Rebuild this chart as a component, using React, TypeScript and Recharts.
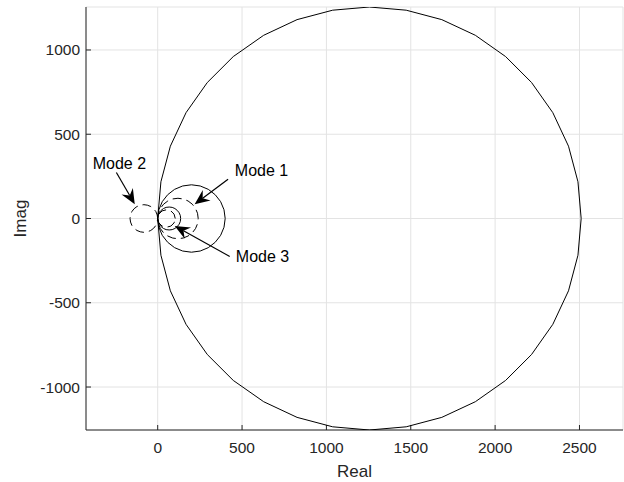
import React from 'react';
import {
  ScatterChart,
  Scatter,
  XAxis,
  YAxis,
  CartesianGrid,
  ReferenceLine,
  ReferenceDot
} from 'recharts';

type Pt = { x: number; y: number };

const xTicks = [0, 500, 1000, 1500, 2000, 2500];
const yTicks = [-1000, -500, 0, 500, 1000];
const xDomain: [number, number] = [-425, 2758];
const yDomain: [number, number] = [-1255, 1255];

const p = (x: number, y: number): Pt => ({ x, y });

// overall response loop
const totalLoop: Pt[] = [
  p(2510, 0), p(2491, 218), p(2435, 429), p(2342, 628), p(2216, 807), p(2062, 961),
  p(1883, 1087), p(1684, 1180), p(1473, 1236), p(1255, 1255), p(1037, 1236), p(826, 1180),
  p(628, 1087), p(448, 961), p(294, 807), p(168, 628), p(75, 429), p(19, 218), p(0, 0),
  p(19, -218), p(75, -429), p(168, -628), p(294, -807), p(448, -961), p(628, -1087),
  p(826, -1180), p(1037, -1236), p(1255, -1255), p(1473, -1236), p(1684, -1180),
  p(1883, -1087), p(2062, -961), p(2216, -807), p(2342, -628), p(2435, -429), p(2491, -218),
  p(2510, 0)
];

// mode 1, solid
const mode1Solid: Pt[] = [
  p(400, 0), p(393, 52), p(373, 100), p(341, 141), p(300, 173), p(252, 193), p(200, 200),
  p(148, 193), p(100, 173), p(59, 141), p(27, 100), p(7, 52), p(0, 0), p(7, -52),
  p(27, -100), p(59, -141), p(100, -173), p(148, -193), p(200, -200), p(252, -193),
  p(300, -173), p(341, -141), p(373, -100), p(393, -52), p(400, 0)
];

// mode 1, dashed
const mode1Dashed: Pt[] = [
  p(240, 0), p(236, 31), p(224, 60), p(205, 85), p(180, 104), p(151, 116), p(120, 120),
  p(89, 116), p(60, 104), p(35, 85), p(16, 60), p(4, 31), p(0, 0), p(4, -31), p(16, -60),
  p(35, -85), p(60, -104), p(89, -116), p(120, -120), p(151, -116), p(180, -104),
  p(205, -85), p(224, -60), p(236, -31), p(240, 0)
];

// mode 2, dashed
const mode2Dashed: Pt[] = [
  p(0, 0), p(-3, 21), p(-11, 41), p(-24, 58), p(-41, 71), p(-61, 79), p(-82, 82),
  p(-103, 79), p(-123, 71), p(-140, 58), p(-153, 41), p(-161, 21), p(-164, 0),
  p(-161, -21), p(-153, -41), p(-140, -58), p(-123, -71), p(-103, -79), p(-82, -82),
  p(-61, -79), p(-41, -71), p(-24, -58), p(-11, -41), p(-3, -21), p(0, 0)
];

// mode 3, solid
const mode3Solid: Pt[] = [
  p(136, 0), p(134, 18), p(127, 34), p(116, 48), p(102, 59), p(86, 66), p(68, 68),
  p(50, 66), p(34, 59), p(20, 48), p(9, 34), p(2, 18), p(0, 0), p(2, -18), p(9, -34),
  p(20, -48), p(34, -59), p(50, -66), p(68, -68), p(86, -66), p(102, -59), p(116, -48),
  p(127, -34), p(134, -18), p(136, 0)
];

// mode 3, dashed
const mode3Dashed: Pt[] = [
  p(104, 0), p(97, 26), p(78, 45), p(52, 52), p(26, 45), p(7, 26), p(0, 0),
  p(7, -26), p(26, -45), p(52, -52), p(78, -45), p(97, -26), p(104, 0)
];

const modeLabels = ['Mode 1', 'Mode 2', 'Mode 3'];
const labelPos: Pt[] = [p(457, 286), p(-227, 328), p(463, -225)];
const labelAnchor = ['start', 'middle', 'start'];
const arrowTail: Pt[] = [p(417, 233), p(-245, 273), p(427, -225)];
const arrowHead: Pt[] = [p(219, 85), p(-136, 85), p(101, -44)];

const axisColor = '#262626';
const font = '"Liberation Sans", Arial, sans-serif';
const dash = '9 5';

const ArrowShape = (props: any) => {
  const { x1, y1, x2, y2 } = props;
  const dx = x2 - x1;
  const dy = y2 - y1;
  const len = Math.hypot(dx, dy) || 1;
  const ux = dx / len;
  const uy = dy / len;
  const nx = -uy;
  const ny = ux;
  const hl = 15;
  const hw = 6.5;
  const notch = 10;
  const bx = x2 - ux * hl;
  const by = y2 - uy * hl;
  const mx = x2 - ux * notch;
  const my = y2 - uy * notch;
  return (
    <g>
      <line x1={x1} y1={y1} x2={mx} y2={my} stroke="#000" strokeWidth={1.2} />
      <polygon
        points={`${x2},${y2} ${bx + nx * hw},${by + ny * hw} ${mx},${my} ${bx - nx * hw},${by - ny * hw}`}
        fill="#000"
      />
    </g>
  );
};

const App: React.FC = () => {
  const series = [
    { data: totalLoop, dashed: false },
    { data: mode1Solid, dashed: false },
    { data: mode1Dashed, dashed: true },
    { data: mode2Dashed, dashed: true },
    { data: mode3Solid, dashed: false },
    { data: mode3Dashed, dashed: true }
  ];

  return (
    <div style={{ position: 'absolute', left: 0, top: 0, width: 624, height: 482, background: '#fff' }}>
      <ScatterChart width={624} height={482} margin={{ top: 7, right: 1, left: 0, bottom: 0 }}>
        <CartesianGrid stroke="#e3e3e3" />
        <XAxis
          type="number"
          dataKey="x"
          domain={xDomain}
          ticks={xTicks}
          allowDataOverflow
          height={52}
          stroke={axisColor}
          tickSize={-5}
          tickMargin={17}
          tick={{ fill: axisColor, fontSize: 15.5, fontFamily: font }}
          label={{
            content: (lp: any) => {
              const vb = lp.viewBox;
              return (
                <text x={vb.x + vb.width / 2} y={477} textAnchor="middle" fill={axisColor} fontSize={17} fontFamily={font}>
                  Real
                </text>
              );
            }
          }}
        />
        <XAxis
          xAxisId="top"
          orientation="top"
          type="number"
          domain={xDomain}
          ticks={xTicks}
          allowDataOverflow
          height={0}
          stroke={axisColor}
          tickSize={-5}
          tick={false}
        />
        <YAxis
          type="number"
          dataKey="y"
          domain={yDomain}
          ticks={yTicks}
          allowDataOverflow
          width={86}
          stroke={axisColor}
          tickSize={-5}
          tickMargin={11}
          tick={{ fill: axisColor, fontSize: 15.5, fontFamily: font }}
          label={{
            content: (lp: any) => {
              const vb = lp.viewBox;
              const cx = 26;
              const cy = vb.y + vb.height / 2;
              return (
                <text x={cx} y={cy} transform={`rotate(-90 ${cx} ${cy})`} textAnchor="middle" fill={axisColor} fontSize={17} fontFamily={font}>
                  Imag
                </text>
              );
            }
          }}
        />
        <YAxis
          yAxisId="right"
          orientation="right"
          type="number"
          domain={yDomain}
          ticks={yTicks}
          allowDataOverflow
          width={0}
          stroke={axisColor}
          tickSize={-5}
          tick={false}
        />
        {series.map((s, i) => (
          <Scatter
            key={i}
            data={s.data}
            fill="#000"
            line={{ stroke: '#000', strokeWidth: 1, strokeDasharray: s.dashed ? dash : undefined }}
            lineType="joint"
            shape={() => <g />}
            isAnimationActive={false}
          />
        ))}
        {modeLabels.map((m, i) => (
          <ReferenceLine
            key={'a' + i}
            segment={[arrowTail[i], arrowHead[i]]}
            stroke="#000"
            shape={ArrowShape}
          />
        ))}
        {modeLabels.map((m, i) => (
          <ReferenceDot
            key={'t' + i}
            x={labelPos[i].x}
            y={labelPos[i].y}
            r={0}
            shape={(dp: any) => (
              <text
                x={dp.cx}
                y={dp.cy}
                dy="0.35em"
                textAnchor={labelAnchor[i] as any}
                fill="#000"
                fontSize={16}
                fontFamily={font}
              >
                {m}
              </text>
            )}
          />
        ))}
      </ScatterChart>
    </div>
  );
};

export default App;
